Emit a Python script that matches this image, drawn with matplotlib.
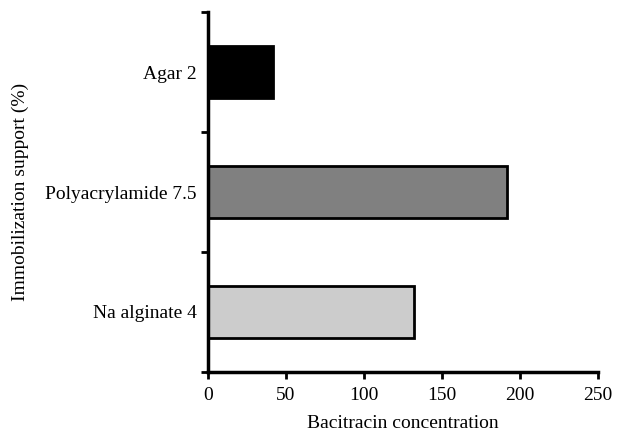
import matplotlib
matplotlib.use("Agg")
import matplotlib.pyplot as plt

# Data
supports = ['Na alginate 4', 'Polyacrylamide 7.5', 'Agar 2']
concentration = [132, 192, 42]
bar_colors = ['#cccccc', '#808080', '#000000']

plt.rcParams['font.family'] = ['Liberation Serif', 'DejaVu Serif']

fig = plt.figure(figsize=(6.19, 4.32), dpi=100)
ax = fig.add_axes([0.336, 0.139, 0.63, 0.833])

ax.barh(range(len(supports)), concentration, height=0.43,
        color=bar_colors, edgecolor='black', linewidth=2)

ax.set_xlim(0, 250)
ax.set_ylim(-0.5, len(supports) - 0.5)
ax.set_xticks([0, 50, 100, 150, 200, 250])
ax.set_yticks(range(len(supports)))
ax.set_yticklabels(supports)
ax.set_yticks([-0.5, 0.5, 1.5, 2.5], minor=True)

ax.tick_params(axis='y', which='major', length=0, pad=8, labelsize=14)
ax.tick_params(axis='y', which='minor', length=5, width=2, direction='out')
ax.tick_params(axis='x', length=5, width=2, direction='out', labelsize=14, pad=6)

for side in ['top', 'right']:
    ax.spines[side].set_visible(False)
for side in ['left', 'bottom']:
    ax.spines[side].set_linewidth(2.5)

ax.set_xlabel('Bacitracin concentration', fontsize=14, labelpad=8)
ax.set_ylabel('Immobilization support (%)', fontsize=14, labelpad=12)

fig.savefig("out.png", dpi=100)
